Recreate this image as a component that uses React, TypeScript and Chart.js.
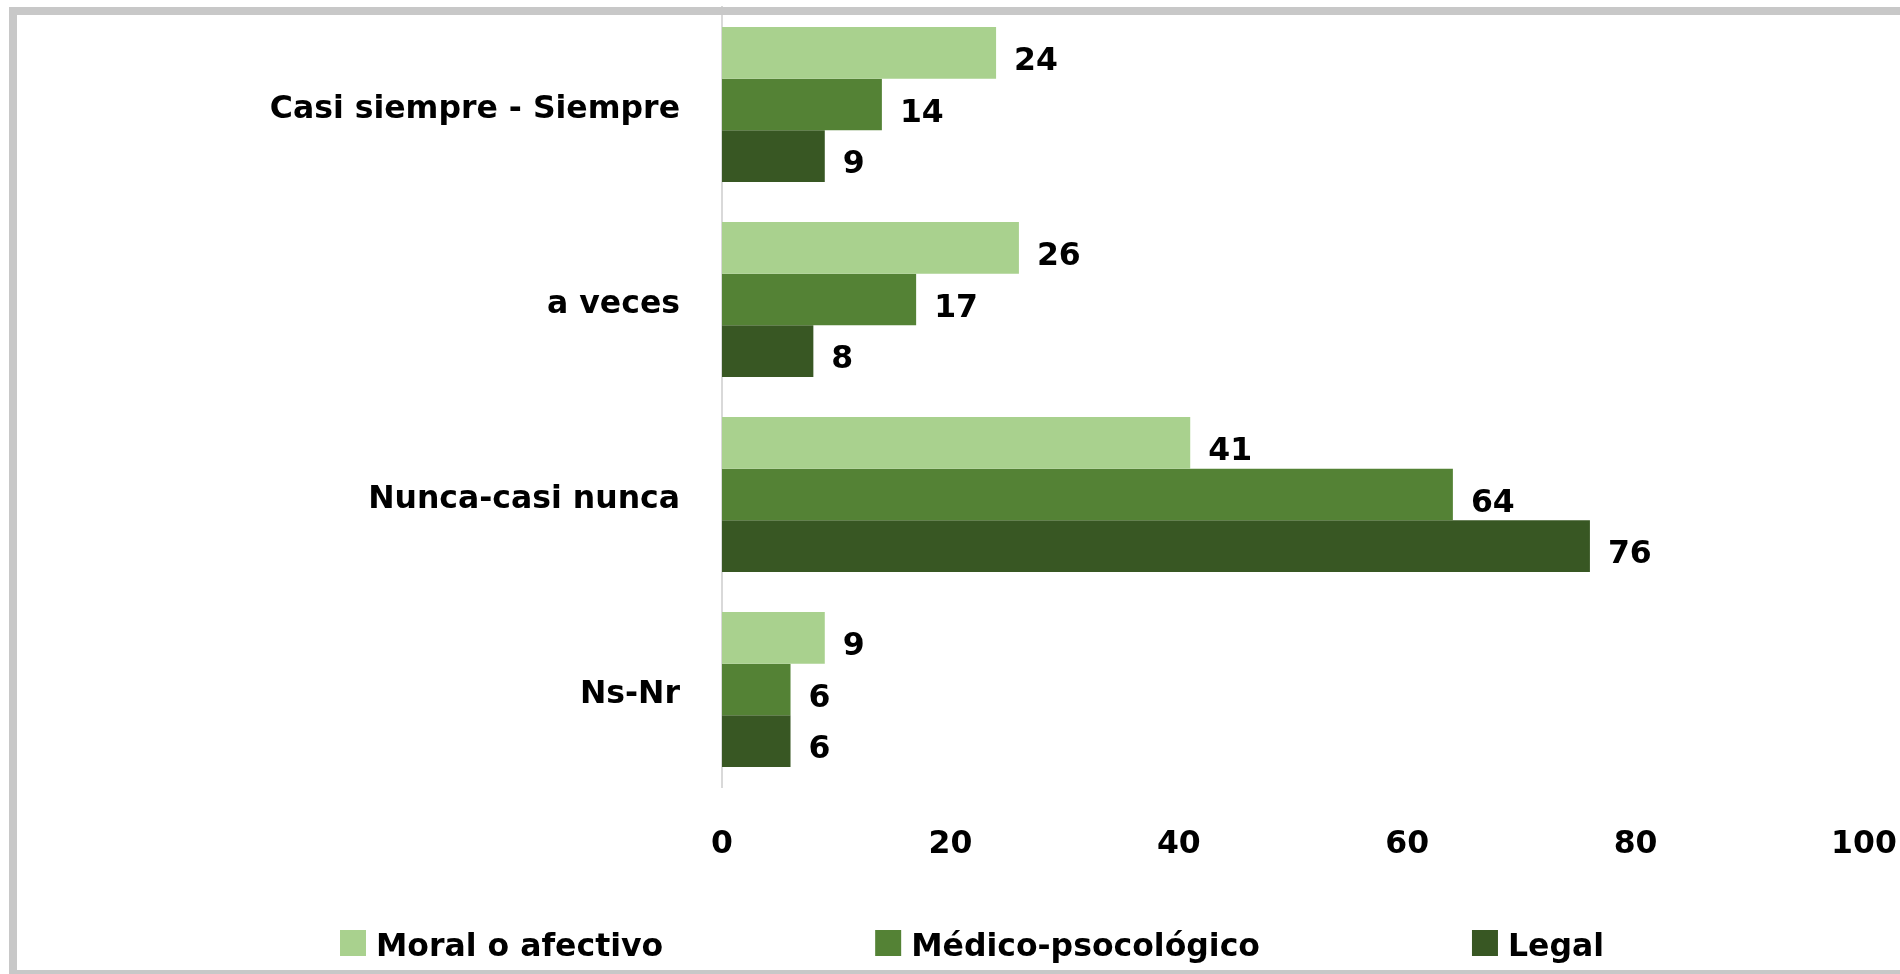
import React, { useEffect, useRef } from "react";
import { Chart, registerables } from "chart.js";

Chart.register(...registerables);

const categories = ["Casi siempre - Siempre", "a veces", "Nunca-casi nunca", "Ns-Nr"];
const seriesNames = ["Moral o afectivo", "Médico-psocológico", "Legal"];
const moralValues = [24, 26, 41, 9];
const medicoValues = [14, 17, 64, 6];
const legalValues = [9, 8, 76, 6];
const xTickValues = [0, 20, 40, 60, 80, 100];
const seriesColors = ["#A9D18E", "#548235", "#385723"];

const FONT = "'DejaVu Sans'";
const FONT_SIZE = 31.5;

const valueLabelPlugin = {
  id: "valueLabels",
  afterDatasetsDraw(chart: any) {
    const ctx = chart.ctx;
    ctx.save();
    ctx.font = `bold ${FONT_SIZE}px ${FONT}`;
    ctx.fillStyle = "#000";
    ctx.textAlign = "left";
    ctx.textBaseline = "alphabetic";
    chart.data.datasets.forEach((ds: any, i: number) => {
      const meta = chart.getDatasetMeta(i);
      meta.data.forEach((bar: any, j: number) => {
        ctx.fillText(String(ds.data[j]), bar.x + 18, bar.y + 17);
      });
    });
    ctx.restore();
  },
};

const customLegendPlugin = {
  id: "customLegend",
  afterDraw(chart: any) {
    const ctx = chart.ctx;
    ctx.save();
    ctx.font = `bold ${FONT_SIZE}px ${FONT}`;
    const box = 26;
    const gapText = 10;
    const gapItem = 212;
    const items = chart.data.datasets.map((ds: any) => ({
      text: ds.label,
      color: ds.backgroundColor,
      w: box + gapText + ctx.measureText(ds.label).width,
    }));
    const total = items.reduce((s: number, it: any) => s + it.w, 0) + gapItem * (items.length - 1);
    let x = 972 - total / 2;
    const boxTop = 930;
    items.forEach((it: any) => {
      ctx.fillStyle = it.color;
      ctx.fillRect(x, boxTop, box, box);
      ctx.fillStyle = "#000";
      ctx.textAlign = "left";
      ctx.textBaseline = "alphabetic";
      ctx.fillText(it.text, x + box + gapText, 956);
      x += it.w + gapItem;
    });
    ctx.restore();
  },
};

export default function App() {
  const canvasRef = useRef<HTMLCanvasElement | null>(null);

  useEffect(() => {
    const canvas = canvasRef.current;
    if (!canvas) return;
    const valueSets = [moralValues, medicoValues, legalValues];
    const chart = new Chart(canvas, {
      type: "bar",
      data: {
        labels: categories,
        datasets: seriesNames.map((name, i) => ({
          label: name,
          data: valueSets[i],
          backgroundColor: seriesColors[i],
          borderWidth: 0,
          categoryPercentage: 0.795,
          barPercentage: 1.0,
        })),
      },
      options: {
        indexAxis: "y",
        responsive: false,
        animation: false,
        devicePixelRatio: 1,
        layout: { padding: { left: 0, right: 36, top: 7, bottom: 97 } },
        plugins: {
          legend: { display: false },
          tooltip: { enabled: false },
          title: { display: false },
        },
        scales: {
          x: {
            min: 0,
            max: 100,
            afterBuildTicks(scale: any) {
              scale.ticks = xTickValues.map((v) => ({ value: v }));
            },
            afterFit(scale: any) {
              scale.height = 90;
              scale.paddingLeft = 0;
              scale.paddingRight = 0;
            },
            grid: { display: false, drawTicks: false },
            border: { display: false },
            ticks: {
              padding: 39,
              color: "#000",
              font: { family: FONT, size: FONT_SIZE, weight: "bold" },
              maxRotation: 0,
            },
          },
          y: {
            afterFit(scale: any) {
              scale.width = 722;
              scale.paddingTop = 0;
              scale.paddingBottom = 0;
            },
            grid: { display: false, drawTicks: false },
            border: { display: true, color: "#D9D9D9", width: 2 },
            ticks: {
              padding: 42,
              labelOffset: 5,
              color: "#000",
              font: { family: FONT, size: FONT_SIZE, weight: "bold" },
            },
          },
        },
      },
      plugins: [valueLabelPlugin, customLegendPlugin],
    } as any);
    return () => chart.destroy();
  }, []);

  return (
    <div
      style={{
        position: "fixed",
        left: 0,
        top: 0,
        width: 1900,
        height: 974,
        overflow: "hidden",
        background: "#fff",
      }}
    >
      <canvas
        ref={canvasRef}
        width={1900}
        height={974}
        style={{ position: "absolute", left: 0, top: 0, width: 1900, height: 974 }}
      />
      <div
        style={{
          position: "absolute",
          left: 9,
          top: 7,
          width: 1960,
          height: 971,
          border: "8px solid #C8C8C8",
          boxSizing: "border-box",
          pointerEvents: "none",
        }}
      />
    </div>
  );
}
